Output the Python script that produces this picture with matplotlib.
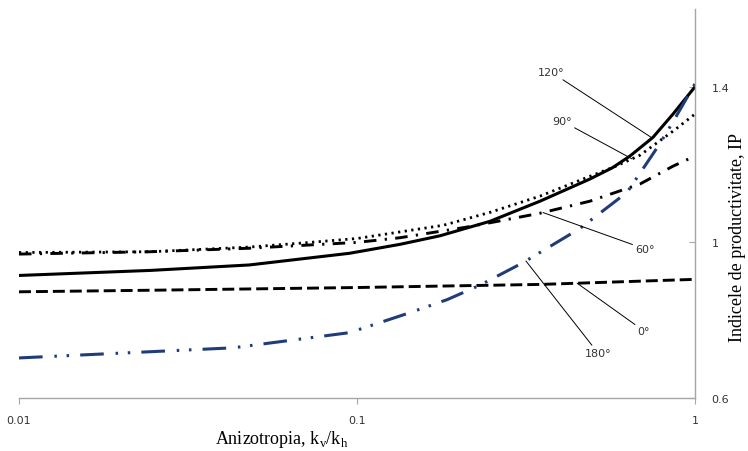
import numpy as np
import matplotlib
matplotlib.use("Agg")
import matplotlib.pyplot as plt
from matplotlib.ticker import FixedLocator, FixedFormatter, NullLocator

plt.rcParams["lines.scale_dashes"] = False
plt.rcParams["mathtext.fontset"] = "custom"
plt.rcParams["mathtext.rm"] = "Liberation Serif"

# Anisotropy ratio kv/kh and productivity index for each well angle
x_0 = [0.01, 0.0245, 0.1, 0.185, 0.35, 1.0]
ip_0 = [0.873, 0.877, 0.884, 0.888, 0.892, 0.905]

x_60 = [0.01, 0.0245, 0.048, 0.1, 0.134, 0.21, 0.26, 0.348, 0.489, 0.687, 0.861, 1.0]
ip_60 = [0.970, 0.976, 0.985, 1.000, 1.012, 1.039, 1.054, 1.075, 1.106, 1.150, 1.196, 1.222]

x_90 = [0.01, 0.0245, 0.048, 0.068, 0.1, 0.18, 0.247, 0.348, 0.489, 0.58, 0.687, 0.861, 1.0]
ip_90 = [0.974, 0.976, 0.988, 0.998, 1.010, 1.044, 1.077, 1.119, 1.170, 1.195, 1.224, 1.286, 1.330]

x_120 = [0.01, 0.0245, 0.048, 0.095, 0.134, 0.176, 0.247, 0.348, 0.489, 0.57, 0.642, 0.751, 0.861, 1.0]
ip_120 = [0.915, 0.928, 0.942, 0.972, 0.995, 1.017, 1.054, 1.106, 1.163, 1.192, 1.222, 1.270, 1.330, 1.400]

x_180 = [0.01, 0.0245, 0.043, 0.095, 0.143, 0.185, 0.231, 0.31, 0.457, 0.63, 0.786, 0.861, 1.0]
ip_180 = [0.703, 0.719, 0.729, 0.768, 0.819, 0.853, 0.890, 0.948, 1.036, 1.129, 1.253, 1.310, 1.408]

x_ticks = [0.01, 0.1, 1]
x_tick_labels = ["0.01", "0.1", "1"]
y_ticks = [0.6, 1.0, 1.4]
y_tick_labels = ["0.6", "1", "1.4"]

fig = plt.figure(figsize=(7.48, 4.52), dpi=100)
W, H = 748, 452
ax = fig.add_axes([19 / W, 1 - 399 / H, (695 - 19) / W, (399 - 10) / H])

ax.set_xscale("log")
ax.set_xlim(0.01, 1)
ax.set_ylim(0.6, 1.6)

navy = "#1f3c78"
ax.plot(x_0, ip_0, color="black", lw=2.1, dashes=(8.6, 3.6), solid_capstyle="butt")
ax.plot(x_120, ip_120, color="black", lw=2.2)
ax.plot(x_90, ip_90, color="black", lw=2.0, dashes=(1.6, 3.2))
ax.plot(x_60, ip_60, color="black", lw=2.1, dashes=(9, 6, 1.6, 6))
ax.plot(x_180, ip_180, color=navy, lw=2.2, dashes=(17, 8.5, 1.8, 7, 1.8, 8))

# spines and ticks
for side in ("left", "top"):
    ax.spines[side].set_visible(False)
for side in ("bottom", "right"):
    ax.spines[side].set_color("#a6a6a6")
    ax.spines[side].set_linewidth(1.0)

ax.yaxis.tick_right()
ax.xaxis.set_major_locator(FixedLocator(x_ticks))
ax.xaxis.set_major_formatter(FixedFormatter(x_tick_labels))
ax.xaxis.set_minor_locator(NullLocator())
ax.yaxis.set_major_locator(FixedLocator(y_ticks))
ax.yaxis.set_major_formatter(FixedFormatter(y_tick_labels))
ax.tick_params(axis="x", direction="out", length=4, color="#a6a6a6",
               labelsize=8, labelcolor="#333333", pad=8)
ax.tick_params(axis="y", direction="in", length=4, color="#a6a6a6",
               labelsize=8, labelcolor="#333333", pad=12)

# axis titles
fig.text(282 / W, 1 - 440 / H, r"Anizotropia, k$_\mathregular{v}$/k$_\mathregular{h}$",
         family="Liberation Serif", fontsize=13, ha="center", va="center")
fig.text(737 / W, 1 - 237 / H, "Indicele de productivitate, IP",
         family="Liberation Serif", fontsize=13, rotation=90,
         ha="center", va="center")

# callouts: (label, series, x position on curve, label centre in figure pixels)
callouts = [
    ("120°", x_120, ip_120, 0.747, (551, 73)),
    ("90°", x_90, ip_90, 0.651, (562, 122)),
    ("60°", x_60, ip_60, 0.355, (645, 250)),
    ("0°", x_0, ip_0, 0.448, (644, 332)),
    ("180°", x_180, ip_180, 0.316, (598, 354)),
]
for label, xs, ys, xa, (tx, ty) in callouts:
    ya = np.interp(np.log10(xa), np.log10(xs), ys)
    ax.annotate(label, xy=(xa, ya), xytext=(tx, H - ty), textcoords="figure pixels",
                fontsize=8, color="#333333", ha="center", va="center",
                arrowprops=dict(arrowstyle="-", color="black", lw=0.7,
                                shrinkA=0, shrinkB=0))

fig.savefig("out.png", dpi=100, facecolor="white")
